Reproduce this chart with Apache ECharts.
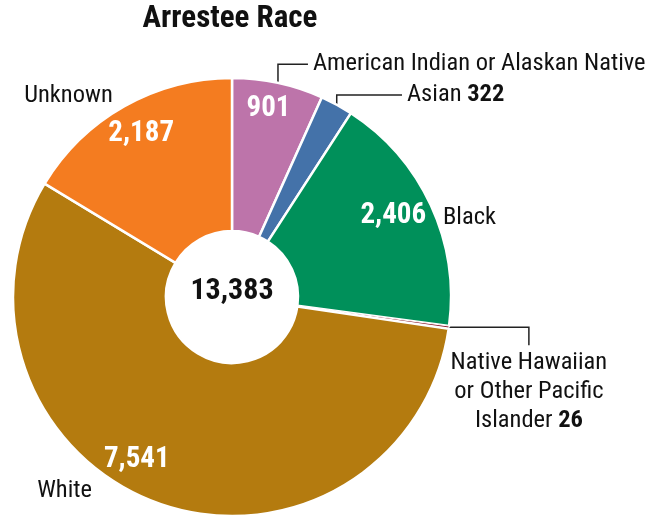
<!DOCTYPE html>
<html>
<head>
<meta charset="utf-8">
<script src="https://cdn.jsdelivr.net/npm/echarts@6/dist/echarts.min.js"></script>
<style>
  html, body { margin: 0; padding: 0; background: #ffffff; }
  #chart { width: 646px; height: 519px; }
</style>
</head>
<body>
<div id="chart"></div>
<script>
// Arrests by race of the arrestee
const categories = [
  'American Indian or Alaskan Native',
  'Asian',
  'Black',
  'Native Hawaiian or Other Pacific Islander',
  'White',
  'Unknown'
];
const arrestCounts = [901, 322, 2406, 26, 7541, 2187];

// Outside label text (line breaks where the label wraps)
const outerNames = [
  'American Indian or Alaskan Native',
  'Asian',
  'Black',
  'Native Hawaiian\nor Other Pacific\nIslander',
  'White',
  'Unknown'
];
const valueOutside = [false, true, false, true, false, false];
const valueInside  = [true, false, true, false, true, true];

// Styling / layout tables
const sliceColors = ['#BD74AA', '#4472A9', '#00905A', '#8C1D2E', '#B47B0F', '#F47C20'];
const leaderShow  = [true, true, false, true, false, false];
const leaderLen   = [19, 11, 0, 0, 0, 11.5];
const leaderLen2  = [26, 60, 7, 80, 61, 1];
const leaderKind  = ['up', 'up', null, 'down', null, null];
const outerNudge  = [[0, 0], [0, 0], [0, 12.5], [-5, 21], [0, -12], [0, 0]];
const innerNudge  = [[-4, 0], [0, 0], [-14, 0], [0, 0], [-30, -19], [4, 5]];

const FONT = "'Liberation Sans Narrow', 'Roboto Condensed', 'DejaVu Sans Condensed', 'Arial Narrow', sans-serif";
const CENTER = [232, 297];
const fmt = v => v.toLocaleString('en-US');
const total = arrestCounts.reduce((a, b) => a + b, 0);

const chart = echarts.init(document.getElementById('chart'), null, { renderer: 'canvas' });

chart.setOption({
  animation: false,
  backgroundColor: '#ffffff',
  title: [
    {
      text: 'Arrestee Race',
      left: 230, top: 4, padding: 0,
      textAlign: 'center',
      textStyle: { fontFamily: FONT, fontSize: 31, fontWeight: 'bold', color: '#111111' }
    },
    {
      text: fmt(total),
      left: CENTER[0], top: 291, padding: 0,
      textAlign: 'center', textVerticalAlign: 'middle',
      textStyle: { fontFamily: FONT, fontSize: 30, fontWeight: 'bold', color: '#111111' }
    }
  ],
  series: [
    {
      // slices with category labels outside
      type: 'pie',
      center: CENTER,
      radius: [66, 219],
      startAngle: 90,
      clockwise: true,
      avoidLabelOverlap: false,
      silent: true,
      itemStyle: { borderColor: '#ffffff', borderWidth: 2.5 },
      label: {
        position: 'outside',
        overflow: 'none',
        fontFamily: FONT,
        fontSize: 24.5,
        lineHeight: 29,
        color: '#111111',
        formatter: p => {
          const i = p.dataIndex;
          return outerNames[i] + (valueOutside[i] ? ' {v|' + fmt(p.value) + '}' : '');
        },
        rich: {
          v: { fontFamily: FONT, fontSize: 24.5, lineHeight: 29, fontWeight: 'bold', color: '#111111' }
        }
      },
      labelLine: { lineStyle: { color: '#222222', width: 1.5 } },
      labelLayout: p => {
        const i = p.dataIndex;
        const out = { dx: outerNudge[i][0], dy: outerNudge[i][1] };
        const pts = p.labelLinePoints;
        if (pts && leaderKind[i] === 'up') {
          out.labelLinePoints = [[pts[0][0], pts[0][1] + 9], [pts[0][0], pts[2][1]], pts[2]];
        } else if (pts && leaderKind[i] === 'down') {
          out.labelLinePoints = [pts[0], pts[2], [pts[2][0], pts[2][1] + 18]];
          out.align = 'center';
          out.verticalAlign = 'top';
        }
        return out;
      },
      data: categories.map((name, i) => ({
        name,
        value: arrestCounts[i],
        itemStyle: { color: sliceColors[i], borderWidth: i === 3 ? 1 : 2.5 },
        labelLine: { show: leaderShow[i], length: leaderLen[i], length2: leaderLen2[i] }
      }))
    },
    {
      // transparent ring carrying the white value labels
      type: 'pie',
      center: CENTER,
      radius: [161, 219],
      startAngle: 90,
      clockwise: true,
      avoidLabelOverlap: false,
      silent: true,
      itemStyle: { color: 'transparent', borderWidth: 0 },
      label: {
        position: 'inside',
        overflow: 'none',
        fontFamily: FONT,
        fontSize: 29,
        fontWeight: 'bold',
        color: '#ffffff',
        formatter: p => (valueInside[p.dataIndex] ? fmt(p.value) : '')
      },
      labelLine: { show: false },
      labelLayout: p => ({ dx: innerNudge[p.dataIndex][0], dy: innerNudge[p.dataIndex][1] }),
      data: categories.map((name, i) => ({ name, value: arrestCounts[i] }))
    }
  ]
});
</script>
</body>
</html>
